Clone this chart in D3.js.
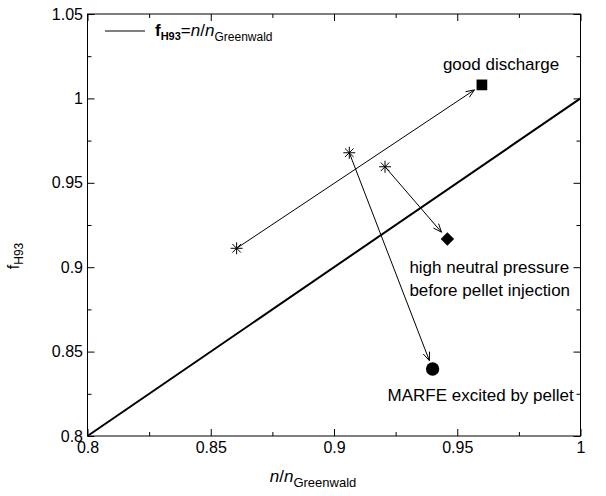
<!DOCTYPE html>
<html>
<head>
<meta charset="utf-8">
<script src="https://cdn.jsdelivr.net/npm/d3@7"></script>
<style>
  body { margin: 0; background: #fff; }
  svg { display: block; }
  text { font-family: "Liberation Sans", Arial, sans-serif; fill: #000; }
</style>
</head>
<body>
<div id="wrapper"></div>
<script>
// n/nGreenwald of the starting shots (stars) and where they ended up
const startX = [0.8605, 0.9062, 0.9207]
const startY = [0.9112, 0.9678, 0.9595]
const endX = [0.960, 0.940, 0.946]
const endY = [1.008, 0.8397, 0.9167]
const endShapes = ["square", "circle", "diamond"]
const endLabels = [
  ["good discharge"],
  ["MARFE excited by pellet"],
  ["high neutral pressure", "before pellet injection"]
]

const xTickValues = [0.8, 0.85, 0.9, 0.95, 1]
const yTickValues = [0.8, 0.85, 0.9, 0.95, 1, 1.05]
const xMinorTicks = [0.825, 0.875, 0.925, 0.975]
const yMinorTicks = [0.825, 0.875, 0.925, 0.975, 1.025]
const fitLine = [0.8, 1]

function draw() {
  // 1. dimensions
  let dimensions = {
    width: 606,
    height: 496,
    margin: { top: 14, right: 25.5, bottom: 60, left: 87.5 },
  }
  dimensions.boundedWidth = dimensions.width - dimensions.margin.left - dimensions.margin.right
  dimensions.boundedHeight = dimensions.height - dimensions.margin.top - dimensions.margin.bottom

  const wrapper = d3.select("#wrapper")
    .append("svg")
    .attr("width", dimensions.width)
    .attr("height", dimensions.height)

  const bounds = wrapper.append("g")
    .attr("transform", `translate(${dimensions.margin.left},${dimensions.margin.top})`)

  // 2. scales
  const xScale = d3.scaleLinear()
    .domain([0.8, 1])
    .range([0, dimensions.boundedWidth])
  const yScale = d3.scaleLinear()
    .domain([0.8, 1.05])
    .range([dimensions.boundedHeight, 0])

  // 3. axes (ticks pointing inward on all four sides)
  const fmt = d => String(d)
  const major = 7, minor = 4

  const axes = [
    { gen: d3.axisBottom(xScale).tickValues(xTickValues).tickFormat(fmt), y: dimensions.boundedHeight, x: 0, size: -major, pad: 5.5 },
    { gen: d3.axisBottom(xScale).tickValues(xMinorTicks).tickFormat(""), y: dimensions.boundedHeight, x: 0, size: -minor },
    { gen: d3.axisTop(xScale).tickValues(xTickValues).tickFormat(""), y: 0, x: 0, size: -major },
    { gen: d3.axisTop(xScale).tickValues(xMinorTicks).tickFormat(""), y: 0, x: 0, size: -minor },
    { gen: d3.axisLeft(yScale).tickValues(yTickValues).tickFormat(fmt), y: 0, x: 0, size: -major, pad: 4.5 },
    { gen: d3.axisLeft(yScale).tickValues(yMinorTicks).tickFormat(""), y: 0, x: 0, size: -minor },
    { gen: d3.axisRight(yScale).tickValues(yTickValues).tickFormat(""), y: 0, x: dimensions.boundedWidth, size: -major },
    { gen: d3.axisRight(yScale).tickValues(yMinorTicks).tickFormat(""), y: 0, x: dimensions.boundedWidth, size: -minor },
  ]
  axes.forEach(a => {
    const g = bounds.append("g")
      .attr("transform", `translate(${a.x},${a.y})`)
      .call(a.gen.tickSize(a.size).tickPadding(a.pad || 0))
    g.select(".domain").remove()
    g.selectAll("line").attr("stroke", "#000").attr("stroke-width", 1)
    g.selectAll("text").attr("font-size", 16)
      .attr("font-family", "Liberation Sans, Arial, sans-serif")
  })

  bounds.append("rect")
    .attr("width", dimensions.boundedWidth)
    .attr("height", dimensions.boundedHeight)
    .attr("fill", "none")
    .attr("stroke", "#000")
    .attr("stroke-width", 1)

  // 4. f = n/nG line
  bounds.append("line")
    .attr("x1", xScale(fitLine[0])).attr("y1", yScale(fitLine[0]))
    .attr("x2", xScale(fitLine[1])).attr("y2", yScale(fitLine[1]))
    .attr("stroke", "#000")
    .attr("stroke-width", 2)

  // 5. arrows from stars to end states
  const gap = 9, headLen = 9, headAng = 22 * Math.PI / 180
  startX.forEach((sx, i) => {
    const x1 = xScale(sx), y1 = yScale(startY[i])
    const x2 = xScale(endX[i]), y2 = yScale(endY[i])
    const ang = Math.atan2(y2 - y1, x2 - x1)
    const len = Math.hypot(x2 - x1, y2 - y1) - gap
    const tx = x1 + len * Math.cos(ang), ty = y1 + len * Math.sin(ang)
    bounds.append("line")
      .attr("x1", x1).attr("y1", y1).attr("x2", tx).attr("y2", ty)
      .attr("stroke", "#000").attr("stroke-width", 1)
    const wing = s => [tx - headLen * Math.cos(ang + s * headAng), ty - headLen * Math.sin(ang + s * headAng)]
    bounds.append("path")
      .attr("d", d3.line()([wing(1), [tx, ty], wing(-1)]))
      .attr("fill", "none").attr("stroke", "#000").attr("stroke-width", 1)
  })

  // 6. markers
  const star = "M-6,0H6M0,-6V6M-4.3,-4.3L4.3,4.3M-4.3,4.3L4.3,-4.3"
  startX.forEach((sx, i) => {
    bounds.append("path")
      .attr("d", star)
      .attr("transform", `translate(${xScale(sx)},${yScale(startY[i])})`)
      .attr("fill", "none").attr("stroke", "#000").attr("stroke-width", 1)
  })

  const shapeGen = {
    square: d3.symbol(d3.symbolSquare, 115)(),
    circle: d3.symbol(d3.symbolCircle, 140)(),
    diamond: d3.symbol(d3.symbolSquare, 90)(),
  }
  endX.forEach((ex, i) => {
    const rot = endShapes[i] === "diamond" ? " rotate(45)" : ""
    bounds.append("path")
      .attr("d", shapeGen[endShapes[i]])
      .attr("transform", `translate(${xScale(ex)},${yScale(endY[i])})${rot}`)
      .attr("fill", "#000")
  })

  // 7. annotations next to end points
  const labelOffset = {
    square: [-39, -15],
    circle: [-45, 32],
    diamond: [-38, 34],
  }
  endLabels.forEach((lines, i) => {
    const off = labelOffset[endShapes[i]]
    const t = bounds.append("text")
      .attr("x", xScale(endX[i]) + off[0])
      .attr("y", yScale(endY[i]) + off[1])
      .attr("font-size", 17)
    lines.forEach((l, j) => {
      t.append("tspan")
        .attr("x", xScale(endX[i]) + off[0])
        .attr("dy", j === 0 ? 0 : 22.5)
        .text(l)
    })
  })

  // 8. legend
  const legend = bounds.append("g")
    .attr("transform", `translate(${105 - dimensions.margin.left},${31 - dimensions.margin.top})`)
  legend.append("line")
    .attr("x1", 0).attr("x2", 40)
    .attr("stroke", "#000").attr("stroke-width", 1)
  const lt = legend.append("text")
    .attr("x", 50).attr("y", 5)
    .attr("font-size", 17)
    .attr("font-family", "Liberation Serif, Times New Roman, serif")
  lt.append("tspan").attr("font-weight", "bold").text("f")
  lt.append("tspan").attr("font-weight", "bold").attr("font-size", 11).attr("dy", 4).text("H93")
  lt.append("tspan").attr("dy", -4).text("=")
  lt.append("tspan").attr("font-style", "italic").text("n")
  lt.append("tspan").text("/")
  lt.append("tspan").attr("font-style", "italic").text("n")
  lt.append("tspan").attr("font-family", "Liberation Sans, Arial, sans-serif")
    .attr("font-size", 12).attr("dy", 5).text("Greenwald")

  // 9. axis titles
  const xt = wrapper.append("text")
    .attr("x", 313)
    .attr("y", 482)
    .attr("text-anchor", "middle")
    .attr("font-size", 17)
    .attr("font-family", "Liberation Serif, Times New Roman, serif")
  xt.append("tspan").attr("font-style", "italic").text("n")
  xt.append("tspan").text("/")
  xt.append("tspan").attr("font-style", "italic").text("n")
  xt.append("tspan").attr("font-family", "Liberation Sans, Arial, sans-serif")
    .attr("font-size", 13).attr("dy", 5).text("Greenwald")

  const yt = wrapper.append("text")
    .attr("transform", `translate(19,256) rotate(-90)`)
    .attr("text-anchor", "middle")
    .attr("font-size", 16)
  yt.append("tspan").text("f")
  yt.append("tspan").attr("font-size", 12).attr("dy", 4).text("H93")
}

draw()
</script>
</body>
</html>
